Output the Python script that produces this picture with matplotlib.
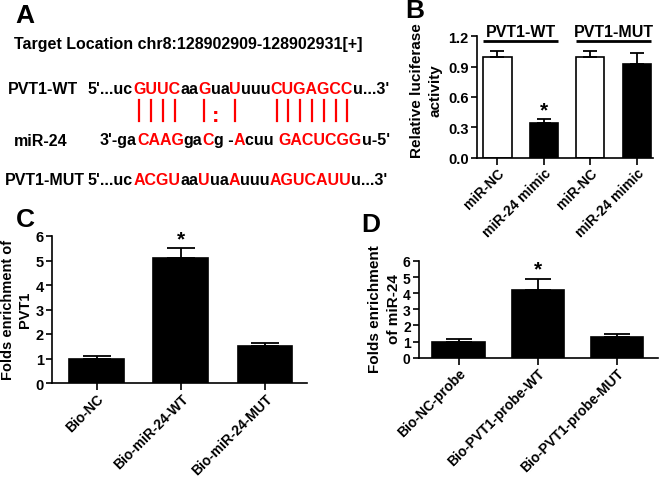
import numpy as np
import matplotlib.pyplot as plt
from matplotlib.font_manager import FontProperties
from matplotlib.lines import Line2D

plt.rcParams['font.family'] = ['Liberation Sans', 'DejaVu Sans']
plt.rcParams['font.weight'] = 'bold'
plt.rcParams['axes.linewidth'] = 1.2

W, H = 663, 481

# ---- panel A: sequences (text, is_red)
target_text = "Target Location chr8:128902909-128902931[+]"
wt_name, mir_name, mut_name = "PVT1-WT", "miR-24", "PVT1-MUT"
wt_runs = [("5'...uc", 0), ("GUUC", 1), ("aa", 0), ("G", 1), ("ua", 0), ("U", 1),
           ("uuu", 0), ("CUGAGCC", 1), ("u...3'", 0)]
mir_runs = [("3'-ga", 0), ("CAAG", 1), ("ga", 0), ("C", 1), ("g -", 0), ("A", 1),
            ("cuu ", 0), ("GACUCGG", 1), ("u-5'", 0)]
mut_runs = [("5'...uc", 0), ("ACGU", 1), ("aa", 0), ("U", 1), ("ua", 0), ("A", 1),
            ("uuu", 0), ("AGUCAUU", 1), ("u...3'", 0)]
pair_bars = [7, 8, 9, 10, 13, 16, 20, 21, 22, 23, 24, 25, 26]   # index in WT string
pair_wobble = [14]

# ---- panel B: luciferase
b_labels = ["miR-NC", "miR-24 mimic", "miR-NC", "miR-24 mimic"]
b_groups = ["PVT1-WT", "PVT1-MUT"]
b_values = [1.00, 0.34, 1.00, 0.93]
b_errors = [0.055, 0.04, 0.055, 0.10]
b_sig = [1]

# ---- panel C: pull-down with bio-miR-24
c_labels = ["Bio-NC", "Bio-miR-24-WT", "Bio-miR-24-MUT"]
c_values = [1.0, 5.1, 1.5]
c_errors = [0.12, 0.40, 0.13]
c_sig = [1]

# ---- panel D: pull-down with PVT1 probe
d_labels = ["Bio-NC-probe", "Bio-PVT1-probe-WT", "Bio-PVT1-probe-MUT"]
d_values = [1.0, 4.22, 1.3]
d_errors = [0.15, 0.67, 0.19]
d_sig = [1]

RED = '#ff0000'

fig = plt.figure(figsize=(W / 100, H / 100), dpi=100)
renderer = fig.canvas.get_renderer()


def fx(x):
    return x / W


def fy(y):
    return 1 - y / H


SEQ = FontProperties(family='Liberation Sans', weight='bold', size=11.5)


def adv(s, prop=SEQ):
    w = lambda t: renderer.get_text_width_height_descent(t, prop, ismath=False)[0]
    return w('|' + s + '|') - w('||')


def draw_seq(x0, base, runs):
    full = ''
    for s, red in runs:
        fig.text(fx(x0 + adv(full)), fy(base), s, color=RED if red else 'black',
                 fontproperties=SEQ, ha='left', va='baseline')
        full += s
    return [x0 + (adv(full[:i]) + adv(full[:i + 1])) / 2 for i in range(len(full))]


# panel letters
for lab, x, y in [('A', 15, 23), ('B', 405, 18), ('C', 16, 227), ('D', 361, 232)]:
    fig.text(fx(x), fy(y), lab, fontsize=19, fontweight='bold', ha='left', va='baseline')

fig.text(fx(14), fy(49), target_text, fontproperties=SEQ, ha='left', va='baseline')
fig.text(fx(8), fy(94), wt_name, fontproperties=SEQ, ha='left', va='baseline')
fig.text(fx(14), fy(146), mir_name, fontproperties=SEQ, ha='left', va='baseline')
fig.text(fx(5), fy(185), mut_name, fontproperties=SEQ, ha='left', va='baseline')

wt_x = draw_seq(88, 94, wt_runs)
draw_seq(100, 145, mir_runs)
draw_seq(88, 185, mut_runs)

for i in pair_bars:
    fig.add_artist(Line2D([fx(wt_x[i])] * 2, [fy(101), fy(122)], color=RED, lw=1.6))
for i in pair_wobble:
    fig.text(fx(wt_x[i]), fy(122.5), ':', color=RED, fontsize=16, fontweight='bold',
             ha='center', va='baseline')


def style_axes(ax, ticks, ticklabels, tsize):
    for s in ['top', 'right']:
        ax.spines[s].set_visible(False)
    ax.set_yticks(ticks, ticklabels)
    ax.tick_params(direction='out', length=4, width=1.2)
    ax.tick_params(axis='y', labelsize=tsize, pad=2)
    ax.tick_params(axis='x', length=5, pad=1)


def bar_panel(ax, labels, values, errors, sig, width, capsize, colors):
    x = np.arange(len(labels))
    ax.bar(x, values, width=width, color=colors, edgecolor='black', linewidth=1.2)
    ax.errorbar(x, values, yerr=[np.zeros(len(x)), errors], fmt='none', ecolor='black',
                elinewidth=1.3, capsize=capsize, capthick=1.3)
    ax.set_xticks(x, labels, rotation=45, ha='right', rotation_mode='anchor',
                  fontsize=10, fontweight='bold', family='Liberation Sans')
    for i in sig:
        ax.text(x[i], values[i] + errors[i], '*', ha='center', va='bottom',
                fontsize=15, fontweight='bold')
    return x


# ---- B
axB = fig.add_axes([fx(477), fy(158.5), (653 - 477) / W, (158.5 - 37.3) / H])
xb = bar_panel(axB, b_labels, b_values, b_errors, b_sig, 0.61, 5,
               ['white', 'black', 'white', 'black'])
axB.set_xlim(-0.44, 3.35)
axB.set_ylim(0, 1.2)
style_axes(axB, [0, 0.3, 0.6, 0.9, 1.2], ['0.0', '0.3', '0.6', '0.9', '1.2'], 10.5)
for g, name in enumerate(b_groups):
    axB.plot([2 * g - 0.305, 2 * g + 1.305], [1.15, 1.15], color='black', lw=2,
             clip_on=False, solid_capstyle='butt')
    axB.text(2 * g + 0.5, 1.205, name, ha='center', va='baseline', fontsize=11.5,
             fontweight='bold')
fig.text(fx(426), fy(91), "Relative luciferase\nactivity", rotation=90, ha='center',
         va='center', multialignment='center', fontsize=11, fontweight='bold',
         linespacing=1.4)

# ---- C
axC = fig.add_axes([fx(52), fy(384), (307 - 52) / W, (384 - 237) / H])
bar_panel(axC, c_labels, c_values, c_errors, c_sig, 0.65, 10, 'black')
axC.set_xlim(-0.53, 2.5)
axC.set_ylim(0, 6)
style_axes(axC, range(7), [str(v) for v in range(7)], 10.5)
fig.text(fx(16.5), fy(310), "Folds enrichment of\nPVT1", rotation=90, ha='center',
         va='center', multialignment='center', fontsize=10.5, fontweight='bold',
         linespacing=1.25)

# ---- D
axD = fig.add_axes([fx(419), fy(358.7), (658 - 419) / W, (358.7 - 262) / H])
bar_panel(axD, d_labels, d_values, d_errors, d_sig, 0.66, 9.5, 'black')
axD.set_xlim(-0.5, 2.52)
axD.set_ylim(0, 6)
style_axes(axD, range(7), [str(v) for v in range(7)], 10)
fig.text(fx(384.5), fy(309), "Folds enrichment\nof miR-24", rotation=90, ha='center',
         va='center', multialignment='center', fontsize=11, fontweight='bold',
         linespacing=1.4)

fig.savefig('out.png', dpi=100)
